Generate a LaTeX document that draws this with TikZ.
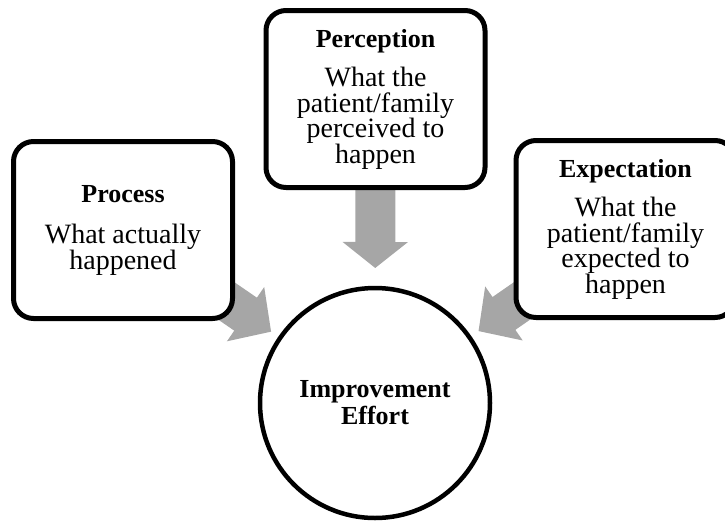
\documentclass[tikz,border=0pt]{standalone}
\usepackage{fontspec}
\setmainfont{Liberation Serif}
\usetikzlibrary{calc,arrows.meta,backgrounds}
\definecolor{arrowgray}{HTML}{A6A6A6}
\newcommand{\boxtitle}[1]{{\fontsize{26}{25.5}\selectfont\bfseries #1}}
\tikzset{
	infobox/.style={draw, line width=5pt, rounded corners=20pt, fill=white,
		minimum width=219pt, minimum height=177pt, align=center,
		font={\fontsize{28}{25.5}\selectfont}},
	effortcircle/.style={draw, circle, line width=4.5pt, fill=white,
		minimum size=230pt, align=center,
		font={\fontsize{26}{27}\selectfont\bfseries}},
	grayarrow/.style={line width=40pt, draw=arrowgray,
		-{Triangle[length=#1,width=64pt]}}
}

\begin{document}
\begin{tikzpicture}[x=1pt, y=-1pt]
			%%%%% START %%%%%
			
			\useasboundingbox (0, 0) rectangle (725, 523);
			\clip (0, 0) rectangle (725, 523);
			
			\node[infobox] (process) at (123, 230)
				{\boxtitle{Process}\\[16pt]What actually\\happened};
			\node[infobox] (perception) at (375.5, 99)
				{\boxtitle{Perception}\\[14pt]What the\\patient/family\\perceived to\\happen};
			\node[infobox] (expectation) at (625.5, 229)
				{\boxtitle{Expectation}\\[14pt]What the\\patient/family\\expected to\\happen};
			
			\node[effortcircle] (effort) at (375, 403) {Improvement\\Effort};
			
			\begin{pgfonlayer}{background}
			\draw[grayarrow=31pt] (process.center) -- ($(effort.center)!126pt!(process.center)$);
			\draw[grayarrow=26pt] (perception.center) -- ($(effort.center)!135pt!(perception.center)$);
			\draw[grayarrow=31pt] (expectation.center) -- ($(effort.center)!126pt!(expectation.center)$);
			\end{pgfonlayer}
			
			%%%%% END %%%%%
\end{tikzpicture}
\end{document}
